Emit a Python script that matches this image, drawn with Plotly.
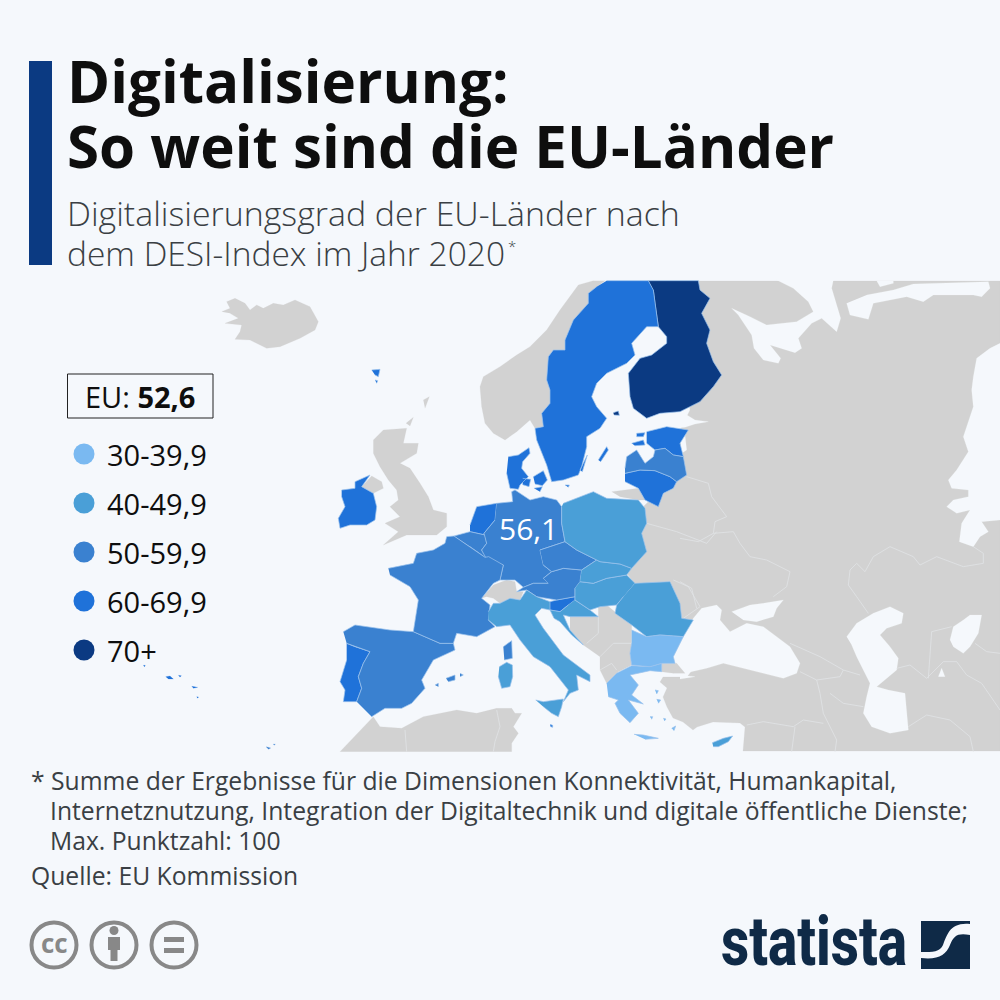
"""Statista map: Digitalisierung der EU-Laender (DESI-Index 2020)"""
import plotly.graph_objects as go

# Values per country. Only Germany is printed, the rest are estimates inside the colour class seen on the map
countries = ["Finnland", "Schweden", "Dänemark", "Niederlande", "Malta", "Irland", "Estland", "Portugal",
             "Litauen", "Slowenien", "Belgien", "Luxemburg", "Spanien", "Deutschland", "Österreich",
             "Tschechien", "Frankreich", "Lettland", "Kroatien", "Ungarn", "Slowakei", "Zypern", "Italien",
             "Polen", "Rumänien", "Griechenland", "Bulgarien"]
desi_values = [72.3, 69.7, 69.1, 67.7, 62.7, 61.8, 61.1, 60.5, 60.2, 60.1, 58.7, 58.9, 57.5, 56.1, 54.3,
               50.8, 52.2, 50.7, 47.5, 47.5, 45.2, 44.0, 43.6, 41.6, 40.0, 37.3, 36.4]
class_starts = [30, 40, 50, 60, 70]
class_labels = ["30-39,9", "40-49,9", "50-59,9", "60-69,9", "70+"]
class_colours = ["#7ab9f1", "#4a9fd7", "#3a81d0", "#1f72d9", "#0b3a82"]
eu_value = "52,6"
labelled_country = "Deutschland"

BG = "#f5f8fc"
LAND = "#d2d2d2"
LAND_BORDER = "#e1e3e6"
BORDER = "#9cc3ec"
TEXT = "#0e0e0e"
SUB = "#3a3f44"
NAVY = "#0b3a82"
LOGO = "#0f2a47"
ICON = "#888888"
FONT = "Open Sans"


def traced(ox, oy, parts):
    xs, ys = [], []
    for part in parts:
        xs += [ox + p[0] / 3 for p in part] + [None]
        ys += [oy + p[1] / 3 for p in part] + [None]
    return xs, ys


def north(*parts):
    return traced(330, 280, parts)


def south(*parts):
    return traced(330, 500, parts)


def west(*parts):
    return traced(0, 280, parts)


def east(*parts):
    return traced(680, 280, parts)


outlines = {
    "Finnland": north(
        [(955, 2), (1105, 2), (1110, 30), (1140, 55), (1115, 100), (1140, 150), (1130, 190), (1150, 245),
         (1175, 285), (1150, 320), (1110, 365), (1050, 395), (990, 400), (950, 415), (910, 385), (900, 350),
         (895, 280), (930, 235), (965, 225), (1010, 190), (1010, 170), (985, 140), (975, 70), (970, 30)],
        [(850, 398), (865, 393), (868, 406), (852, 405)]),
    "Schweden": north(
        [(830, 2), (955, 2), (970, 30), (975, 70), (985, 140), (950, 140), (905, 190), (915, 225), (890, 250),
         (830, 280), (800, 310), (785, 350), (800, 380), (830, 415), (810, 445), (770, 470), (770, 500),
         (755, 560), (745, 585), (700, 600), (665, 605), (650, 555), (620, 480), (615, 445), (640, 440),
         (635, 400), (660, 370), (660, 330), (650, 300), (655, 230), (670, 210), (705, 210), (705, 180),
         (730, 120), (775, 70), (775, 40), (800, 20)],
        [(805, 540), (830, 500), (835, 510), (812, 545)],
        [(750, 570), (772, 525), (757, 575)],
        [(705, 615), (718, 615), (715, 622)]),
    "Dänemark": north(
        [(535, 530), (565, 525), (597, 503), (600, 520), (578, 545), (575, 565), (595, 590), (570, 615),
         (565, 628), (540, 625), (530, 580)],
        [(610, 590), (640, 572), (652, 600), (637, 617), (615, 612)],
        [(578, 595), (602, 598), (597, 620), (578, 614)],
        [(612, 625), (637, 620), (630, 635)],
        [(125, 270), (150, 268), (145, 290), (135, 285)],
        [(135, 300), (143, 302), (140, 310)]),
    "Estland": north(
        [(950, 455), (1010, 440), (1075, 450), (1050, 490), (1060, 530), (1030, 525), (1005, 505), (975, 510),
         (950, 490)],
        [(905, 490), (940, 480), (945, 495), (915, 497)],
        [(920, 460), (945, 458), (940, 470), (920, 470)]),
    "Lettland": north(
        [(885, 565), (890, 530), (920, 510), (945, 550), (970, 530), (975, 510), (1005, 505), (1030, 525),
         (1060, 530), (1070, 585), (1040, 605), (1020, 590), (975, 572), (930, 570), (885, 580)]),
    "Litauen": north(
        [(885, 580), (930, 570), (975, 572), (1020, 590), (1040, 605), (1030, 625), (1000, 640), (985, 680),
         (945, 660), (925, 625), (885, 605)]),
    "Irland": north(
        [(35, 630), (75, 625), (75, 605), (120, 585), (95, 620), (130, 640), (140, 680), (135, 720), (110, 735),
         (60, 735), (30, 745), (25, 715), (45, 680), (35, 650)]),
    "Deutschland": south(
        [(500, 10), (548, 5), (545, -25), (555, -30), (600, 0), (640, -10), (680, 0), (695, 20), (695, 70),
         (705, 125), (630, 150), (640, 195), (665, 215), (640, 235), (655, 250), (610, 250), (580, 262),
         (555, 240), (510, 240), (520, 195), (470, 178), (455, 150), (470, 130), (462, 100), (495, 60)]),
    "Niederlande": south(
        [(420, 75), (440, 20), (500, 10), (495, 60), (462, 100), (465, 105), (420, 95)]),
    "Belgien": south(
        [(372, 108), (420, 95), (465, 105), (470, 130), (455, 150), (465, 172), (420, 140)]),
    "Luxemburg": south(
        [(455, 150), (470, 148), (476, 170), (462, 172)]),
    "Frankreich": south(
        [(175, 205), (250, 190), (260, 160), (310, 150), (345, 130), (350, 110), (372, 108), (420, 140),
         (465, 172), (476, 170), (520, 195), (510, 240), (490, 250), (455, 295), (480, 315), (475, 360),
         (495, 380), (440, 410), (380, 400), (370, 430), (330, 430), (250, 395), (265, 300), (240, 260),
         (180, 225)],
        [(520, 440), (545, 422), (547, 475), (523, 480)]),
    "Spanien": south(
        [(40, 395), (75, 375), (180, 390), (250, 395), (330, 430), (370, 430), (375, 450), (310, 480),
         (275, 540), (285, 565), (245, 610), (215, 625), (165, 625), (125, 650), (80, 605), (95, 565),
         (85, 530), (100, 490), (120, 455), (75, 440), (50, 430)],
        [(348, 535), (375, 525), (375, 540), (355, 545)],
        [(390, 520), (400, 525), (390, 530)],
        [(315, 555), (325, 550), (325, 560)]),
    "Portugal": south(
        [(50, 430), (75, 440), (120, 455), (100, 490), (85, 530), (95, 565), (80, 605), (40, 605), (45, 570),
         (30, 545), (50, 480)]),
    "Polen": south(
        [(700, 10), (790, -25), (830, -5), (925, 0), (945, 25), (950, 70), (935, 100), (950, 155), (905, 205),
         (870, 192), (810, 185), (800, 180), (740, 150), (705, 125), (695, 70), (695, 20)]),
    "Tschechien": south(
        [(630, 150), (705, 125), (740, 150), (800, 180), (755, 210), (700, 205), (665, 215), (640, 195)]),
    "Österreich": south(
        [(640, 235), (665, 215), (700, 205), (755, 210), (750, 245), (735, 265), (735, 290), (680, 300),
         (620, 290), (590, 270), (560, 275), (580, 262), (610, 250), (655, 250)]),
    "Slowakei": south(
        [(755, 210), (800, 180), (810, 185), (870, 192), (905, 205), (890, 225), (830, 235), (790, 250),
         (750, 245)]),
    "Ungarn": south(
        [(750, 245), (790, 250), (830, 235), (890, 225), (915, 250), (880, 290), (860, 315), (810, 320),
         (780, 330), (735, 300), (735, 265)]),
    "Rumänien": south(
        [(915, 250), (1020, 245), (1050, 310), (1055, 355), (1090, 360), (1060, 410), (990, 405), (950, 410),
         (905, 375), (855, 340), (860, 315), (880, 290)]),
    "Bulgarien": south(
        [(905, 390), (950, 410), (990, 405), (1060, 410), (1030, 470), (1035, 490), (995, 490), (960, 500),
         (905, 495), (900, 460), (905, 430)]),
    "Griechenland": south(
        [(830, 550), (860, 520), (905, 497), (960, 500), (995, 490), (995, 515), (960, 512), (925, 520),
         (900, 525), (925, 555), (905, 585), (940, 612), (895, 600), (925, 640), (900, 668), (870, 640),
         (855, 610), (865, 600), (835, 590)],
        [(912, 703), (940, 705), (985, 715), (945, 718)],
        [(980, 598), (992, 600), (985, 610)],
        [(1025, 685), (1037, 678), (1032, 692)],
        [(975, 570), (985, 572), (980, 582)],
        [(960, 650), (968, 650), (965, 658)],
        [(1000, 655), (1008, 657), (1003, 663)]),
    "Kroatien": south(
        [(735, 300), (780, 330), (805, 350), (720, 350), (700, 345), (720, 390), (760, 435), (725, 405),
         (690, 365), (672, 355), (660, 330), (690, 335), (715, 315)]),
    "Slowenien": south(
        [(660, 305), (680, 300), (735, 290), (735, 300), (715, 315), (690, 335), (660, 330)]),
    "Italien": south(
        [(475, 335), (490, 310), (510, 310), (540, 295), (570, 300), (590, 270), (620, 290), (660, 305),
         (660, 330), (635, 325), (615, 345), (640, 385), (700, 465), (720, 480), (780, 525), (780, 545),
         (740, 525), (745, 570), (720, 580), (700, 605), (715, 570), (660, 500), (610, 470), (570, 420),
         (540, 375), (500, 380), (475, 360)],
        [(617, 600), (640, 605), (700, 597), (695, 620), (685, 650), (665, 640), (640, 620)],
        [(508, 500), (530, 487), (547, 495), (548, 530), (540, 560), (515, 565), (505, 530)]),
    "Malta": south([(660, 673), (668, 676), (668, 682), (662, 680)]),
    "Zypern": east([(97, 1388), (130, 1375), (158, 1368), (145, 1385), (115, 1400), (100, 1400)]),
}
# Azores, Canaries and Madeira specks belong to Portugal and Spain
specks_pt = west([(497, 1190), (510, 1188), (520, 1197), (505, 1197)], [(535, 1186), (544, 1187), (540, 1192)],
                 [(575, 1219), (593, 1222), (580, 1225)], [(590, 1250), (596, 1251), (592, 1255)],
                 [(430, 1156), (436, 1156), (433, 1161)])
specks_es = west([(798, 1400), (812, 1404), (805, 1408)], [(820, 1392), (826, 1393), (822, 1396)])

# Land outside the EU, everything sits below the coloured countries
land_main = [(680, 281), (1000, 281), (1000, 751), (743, 751), (745, 727), (740, 723), (713, 722), (697, 727),
             (693, 730), (683, 722), (673, 718), (667, 707), (663, 697), (667, 688), (660, 682), (663, 677),
             (687, 677), (700, 660), (685, 625), (640, 590), (620, 565), (640, 540), (640, 510), (660, 490),
             (680, 465), (680, 430), (690, 410), (680, 300)]
land_other = [
    north([(825, 2), (800, 20), (775, 40), (778, 70), (730, 120), (705, 180), (705, 210), (670, 210), (655, 230),
           (650, 300), (660, 330), (660, 370), (635, 400), (640, 440), (615, 445), (600, 420), (560, 455),
           (525, 480), (490, 460), (465, 430), (455, 380), (450, 320), (460, 290), (510, 260), (560, 225),
           (600, 200), (650, 150), (690, 90), (720, 50), (745, 15), (790, 2)],
          [(130, 480), (160, 450), (230, 445), (220, 490), (265, 490), (260, 520), (210, 550), (240, 565),
           (270, 610), (295, 650), (310, 690), (350, 700), (350, 740), (320, 765), (230, 765), (160, 795),
           (205, 755), (165, 730), (210, 710), (180, 680), (205, 660), (200, 630), (175, 600), (150, 560),
           (130, 520)],
          [(95, 620), (125, 588), (155, 605), (160, 625), (130, 640)],
          [(280, 360), (298, 350), (285, 385)],
          [(228, 430), (250, 412), (240, 438)],
          [(845, 635), (925, 625), (945, 660), (925, 660), (870, 650)]),
    west([(665, 95), (690, 85), (680, 65), (705, 55), (735, 70), (750, 90), (770, 75), (790, 85), (820, 70),
          (850, 75), (885, 60), (930, 80), (955, 125), (945, 150), (900, 175), (840, 200), (800, 205), (750, 180),
          (705, 178), (720, 155), (725, 135), (675, 130), (715, 115), (690, 100)]),
    south([(30, 755), (115, 665), (130, 650), (150, 680), (215, 685), (280, 650), (380, 630), (440, 640),
           (500, 625), (545, 625), (555, 640), (575, 640), (550, 680), (565, 700), (545, 730), (545, 755)],
          [(455, 295), (490, 255), (530, 240), (555, 245), (560, 275), (580, 275), (570, 300), (540, 295),
           (510, 310), (490, 295), (470, 290)],
          [(720, 350), (805, 350), (805, 320), (830, 315), (860, 340), (905, 375), (905, 430), (900, 460),
           (905, 495), (865, 515), (830, 550), (810, 510), (810, 470), (760, 435), (720, 390)],
          [(995, 490), (1040, 490), (1065, 520), (1030, 520), (995, 515)]),
]
water = east(
    [(290, 0), (340, 25), (385, 65), (400, 95), (350, 125), (260, 135), (210, 110), (155, 85), (175, 105),
     (215, 165), (222, 205), (250, 240), (295, 250), (302, 235), (270, 195), (345, 218), (365, 205), (355, 175),
     (395, 130), (425, 115), (470, 155), (482, 115), (455, 25), (460, 0)],
    [(500, 70), (510, 105), (565, 118), (580, 70), (680, 50), (730, 65), (760, 45), (880, 45), (905, 50), (930, 25),
     (925, 5), (700, 12), (640, 30), (560, 45)],
    [(590, 2), (600, 20), (640, 10), (640, 2)],
    [(960, 190), (930, 205), (890, 235), (880, 290), (875, 330), (880, 380), (850, 470), (865, 515), (830, 570),
     (805, 600), (815, 625), (865, 630), (865, 650), (820, 660), (800, 680), (830, 700), (870, 690), (845, 730),
     (838, 785), (880, 800), (900, 770), (925, 755), (905, 725), (960, 720)],
    [(500, 1070), (530, 1030), (580, 1000), (630, 980), (670, 1000), (665, 1030), (620, 1045), (600, 1065),
     (630, 1100), (655, 1135), (650, 1170), (590, 1220), (625, 1230), (675, 1240), (685, 1350), (630, 1360),
     (575, 1340), (550, 1300), (560, 1250), (570, 1210), (530, 1130), (515, 1095)],
    [(810, 1080), (820, 1040), (850, 1020), (870, 1005), (905, 1005), (895, 1060), (870, 1100), (850, 1120),
     (820, 1100)],
    [(775, 1190), (785, 1165), (795, 1190)],
    [(40, 1015), (65, 985), (110, 975), (125, 990), (120, 1020), (150, 1055), (200, 1030), (250, 1040), (330, 1100),
     (360, 1150), (350, 1180), (310, 1195), (250, 1180), (190, 1165), (130, 1150), (80, 1165), (30, 1176), (-20, 1135),
     (-20, 1095)],
    [(155, 995), (210, 975), (250, 970), (310, 960), (290, 985), (280, 1010), (230, 1025), (190, 1020)],
    [(0, 1185), (45, 1190), (0, 1197)],
    [(0, 470), (15, 465), (20, 510), (5, 520)],
    [(-70, 395), (-30, 388), (0, 392), (30, 410), (45, 420), (85, 425), (45, 432), (15, 442), (-70, 450)],
)
land_lines = east(
    [(20, 590), (85, 610), (95, 650), (140, 710), (105, 725), (100, 760), (55, 785), (0, 775)],
    [(100, 760), (160, 755), (180, 790), (210, 830), (260, 840), (330, 875), (320, 920), (280, 950)],
    [(510, 870), (530, 850), (555, 875), (580, 830), (630, 800), (700, 830), (720, 855), (770, 830), (850, 860),
     (910, 850), (910, 820), (880, 800)],
    [(510, 870), (505, 915), (530, 950), (565, 1000)],
    [(745, 1195), (755, 1055), (815, 1040)],
    [(885, 1090), (920, 1115), (960, 1120)],
    [(650, 1165), (690, 1155), (740, 1195), (790, 1145), (830, 1145), (860, 1185), (905, 1210), (960, 1290)],
    [(330, 1090), (420, 1130), (490, 1170), (540, 1185)],
    [(360, 1175), (410, 1200), (420, 1240), (430, 1300), (470, 1380), (465, 1415)],
    [(410, 1200), (480, 1190), (490, 1170)],
    [(450, 1240), (490, 1270), (550, 1280)],
    [(200, 1335), (250, 1325), (340, 1340), (370, 1320), (430, 1330)],
    [(345, 1340), (335, 1415)],
    [(685, 1340), (740, 1305), (810, 1320), (870, 1370), (880, 1415)],
    [(0, 905), (35, 925), (50, 985)],
)
land_lines_south = south(
    [(225, 690), (230, 755)],
    [(500, 630), (510, 680), (495, 725), (490, 755)],
    [(805, 350), (805, 400), (770, 430)],
    [(810, 470), (850, 430), (905, 430)],
    [(810, 510), (845, 490), (860, 510)],
    [(1030, 240), (1075, 260), (1110, 320), (1060, 355)],
    [(950, 70), (1040, 95), (1130, 130), (1160, 95)],
)


def class_colour(value):
    colour = class_colours[0]
    for start, c in zip(class_starts, class_colours):
        if value >= start:
            colour = c
    return colour


fig = go.Figure()


def add_fill(xs, ys, colour, line_colour=None):
    fig.add_trace(go.Scatter(
        x=xs, y=ys, mode="lines", fill="toself", fillcolor=colour, hoverinfo="skip", showlegend=False,
        line=dict(color=line_colour or colour, width=0.7 if line_colour else 0.2),
    ))


add_fill([p[0] for p in land_main], [p[1] for p in land_main], LAND)
for xs, ys in land_other:
    add_fill(xs, ys, LAND)
add_fill(water[0], water[1], BG)
for xs, ys in (land_lines, land_lines_south):
    fig.add_trace(go.Scatter(x=xs, y=ys, mode="lines", hoverinfo="skip", showlegend=False,
                             line=dict(color=LAND_BORDER, width=0.8)))

for name, value in zip(countries, desi_values):
    xs, ys = outlines[name]
    add_fill(xs, ys, class_colour(value), BORDER)
add_fill(specks_pt[0], specks_pt[1], class_colours[3])
add_fill(specks_es[0], specks_es[1], class_colours[2])

# Legend dots
legend_y = [454 + 49 * i for i in range(len(class_labels))]
fig.add_trace(go.Scatter(x=[84] * len(class_labels), y=legend_y, mode="markers", hoverinfo="skip", showlegend=False,
                         marker=dict(size=21, color=class_colours, line=dict(width=0))))


def label(x, y, text, size, colour=TEXT, anchor="left", family=FONT, weight=None):
    fig.add_annotation(x=x, y=y, xref="x", yref="y", text=text, showarrow=False, xanchor=anchor, yanchor="middle",
                       align=anchor, font=dict(family=family, size=size, color=colour, weight=weight))


label(65, 80, "<b>Digitalisierung:</b>", 58.3)
label(65, 145, "<b>So weit sind die EU-Länder</b>", 58.3)
label(65, 213, "Digitalisierungsgrad der EU-Länder nach", 33.9, SUB, weight=300)
label(65, 253, "dem DESI-Index im Jahr 2020", 33.5, SUB, weight=300)
label(506, 246, "*", 15, SUB, weight=300)

label(140, 396, f"EU: <b>{eu_value}</b>", 29, anchor="center")
for y, text in zip(legend_y, class_labels):
    label(105, y, text, 29)
label(528, 528, f"{desi_values[countries.index(labelled_country)]}".replace(".", ","), 30, "#ffffff", anchor="center")

label(29, 780, "* Summe der Ergebnisse für die Dimensionen Konnektivität, Humankapital,", 24.7, SUB)
label(48, 810, "Internetznutzung, Integration der Digitaltechnik und digitale öffentliche Dienste;", 24.7, SUB)
label(48, 840, "Max. Punktzahl: 100", 24.7, SUB)
label(29, 875, "Quelle: EU Kommission", 24.7, SUB)

label(54, 943, "<b>cc</b>", 26, ICON, anchor="center")
label(719, 942, "statista", 68, LOGO, family="Roboto", weight=800)

shapes = [
    dict(type="rect", x0=29, x1=52, y0=61, y1=265, fillcolor=NAVY, line=dict(width=0)),
    dict(type="rect", x0=67.5, x1=213, y0=374, y1=418, fillcolor="rgba(0,0,0,0)", line=dict(color="#222222", width=1)),
    dict(type="rect", x0=921, x1=970, y0=921, y1=969, fillcolor=LOGO, line=dict(width=0)),
    dict(type="path", path="M 970 924 C 950 922, 947 935, 943 945 C 940 952, 933 952, 921 952 L 921 958 "
                           "C 938 960, 946 955, 950 945 C 954 935, 958 933, 970 935 Z",
         fillcolor=BG, line=dict(width=0)),
    dict(type="circle", x0=109.5, x1=118.5, y0=926, y1=935, fillcolor=ICON, line=dict(width=0)),
    dict(type="rect", x0=108, x1=120, y0=937, y1=950, fillcolor=ICON, line=dict(width=0)),
    dict(type="rect", x0=110.5, x1=117.5, y0=950, y1=961, fillcolor=ICON, line=dict(width=0)),
    dict(type="rect", x0=164, x1=184, y0=937, y1=942, fillcolor=ICON, line=dict(width=0)),
    dict(type="rect", x0=164, x1=184, y0=948, y1=953, fillcolor=ICON, line=dict(width=0)),
]
for cx in (54, 114, 174):
    shapes.append(dict(type="circle", x0=cx - 22.5, x1=cx + 22.5, y0=922.5, y1=967.5, fillcolor="rgba(0,0,0,0)",
                       line=dict(color=ICON, width=4)))

fig.update_layout(
    width=1000, height=1000, margin=dict(l=0, r=0, t=0, b=0), autosize=False,
    paper_bgcolor=BG, plot_bgcolor=BG, shapes=shapes, showlegend=False,
    xaxis=dict(range=[0, 1000], visible=False, fixedrange=True),
    yaxis=dict(range=[1000, 0], visible=False, fixedrange=True),
)

# The logo wordmark is condensed, no condensed font is installed so squeeze the glyphs to the logo width
squeeze_logo = """
document.body.style.margin = '0';
document.querySelectorAll('text.annotation-text').forEach(function (t) {
  if (t.textContent === 'statista') {
    t.setAttribute('textLength', '186');
    t.setAttribute('lengthAdjust', 'spacingAndGlyphs');
  }
});
"""
fig.write_html("out.html", config=dict(displayModeBar=False), post_script=squeeze_logo)
